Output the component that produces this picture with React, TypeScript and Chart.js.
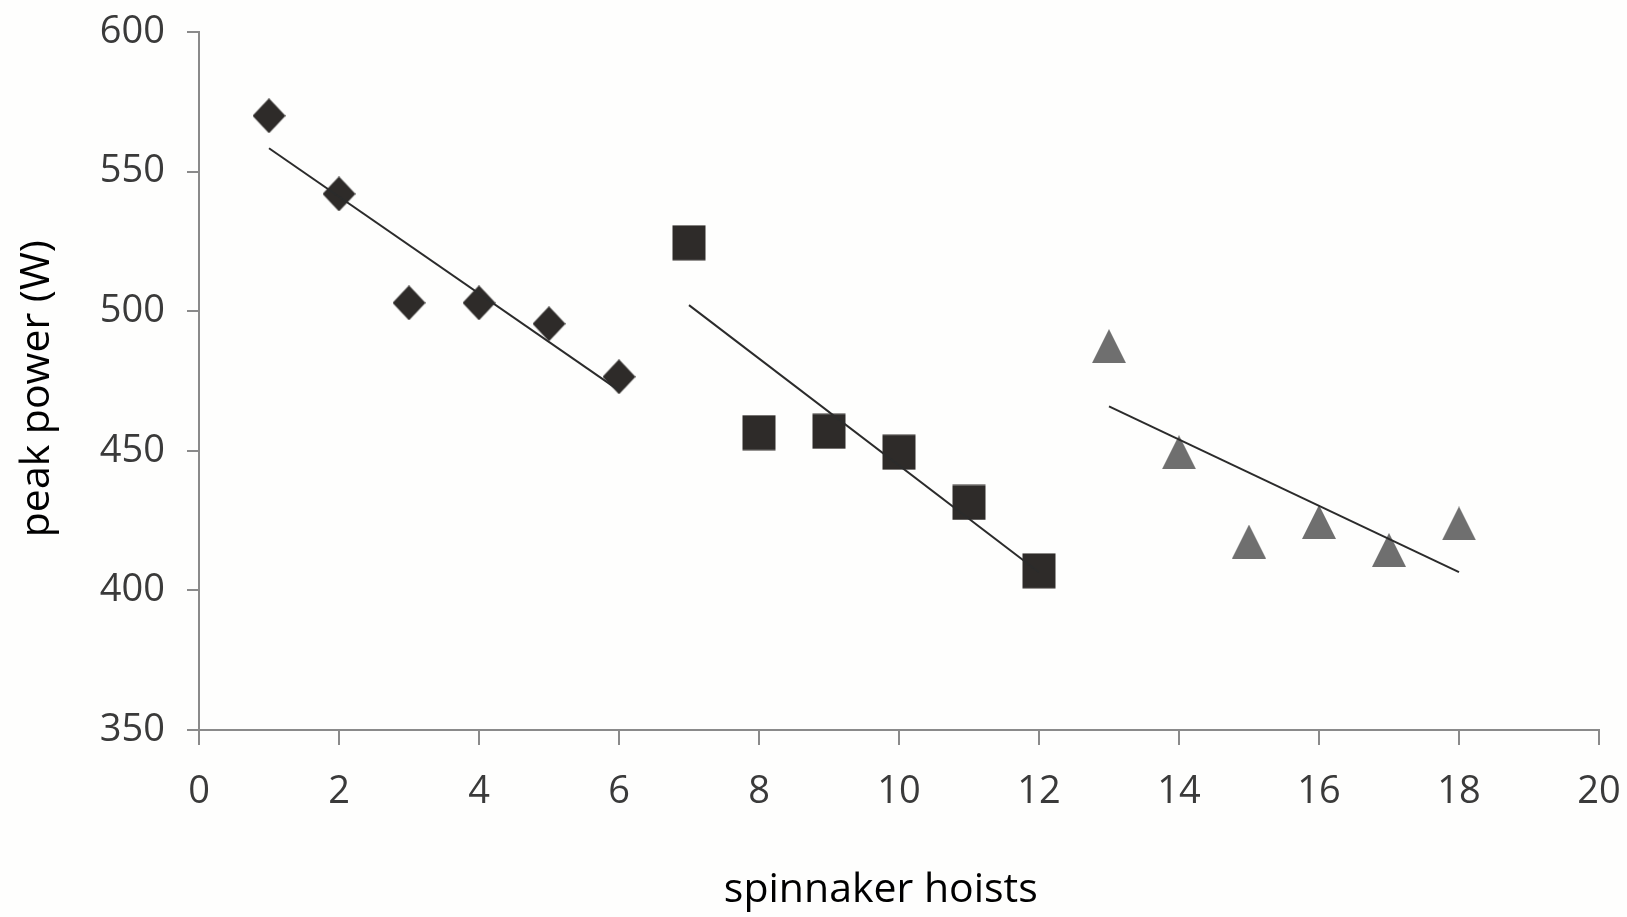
import React, { useEffect, useRef } from "react";
import { Chart, registerables } from "chart.js";

Chart.register(...registerables);

// Series data
const diamondX = [1, 2, 3, 4, 5, 6];
const diamondY = [570, 542, 503, 503, 495.5, 476.5];
const squareX = [7, 8, 9, 10, 11, 12];
const squareY = [524.5, 456.5, 457, 449.5, 431.5, 407];
const triangleX = [13, 14, 15, 16, 17, 18];
const triangleY = [487.5, 449.5, 417.5, 424.5, 414.5, 424];

// Axis ticks
const xTickValues = [0, 2, 4, 6, 8, 10, 12, 14, 16, 18, 20];
const yTickValues = [350, 400, 450, 500, 550, 600];

const xTitle = "spinnaker hoists";
const yTitle = "peak power (W)";

const toPoints = (xs: number[], ys: number[]) => xs.map((x, i) => ({ x, y: ys[i] }));

// Least-squares linear trendline over the series' x range
const trend = (xs: number[], ys: number[]) => {
  const n = xs.length;
  const mx = xs.reduce((a, b) => a + b, 0) / n;
  const my = ys.reduce((a, b) => a + b, 0) / n;
  let sxy = 0;
  let sxx = 0;
  for (let i = 0; i < n; i++) {
    sxy += (xs[i] - mx) * (ys[i] - my);
    sxx += (xs[i] - mx) * (xs[i] - mx);
  }
  const b = sxy / sxx;
  const a = my - b * mx;
  const x0 = Math.min(...xs);
  const x1 = Math.max(...xs);
  return [
    { x: x0, y: a + b * x0 },
    { x: x1, y: a + b * x1 },
  ];
};

const makeMarker = (kind: "diamond" | "square" | "triangle", color: string) => {
  const c = document.createElement("canvas");
  let w = 34;
  let h = 36;
  if (kind === "diamond") {
    w = 33;
    h = 35;
  } else if (kind === "triangle") {
    w = 34;
    h = 34;
  }
  c.width = w;
  c.height = h;
  const ctx = c.getContext("2d")!;
  ctx.fillStyle = color;
  ctx.beginPath();
  if (kind === "diamond") {
    ctx.moveTo(w / 2, 0);
    ctx.lineTo(w, h / 2);
    ctx.lineTo(w / 2, h);
    ctx.lineTo(0, h / 2);
  } else if (kind === "square") {
    ctx.rect(0.5, 0.5, w - 1, h - 1);
  } else {
    ctx.moveTo(w / 2, 0);
    ctx.lineTo(w, h);
    ctx.lineTo(0, h);
  }
  ctx.closePath();
  ctx.fill();
  return c;
};

// Axis titles drawn as canvas text, placed like the reference's
const axisTitlePlugin = {
  id: "axisTitles",
  afterDraw(chart: any) {
    const { ctx, chartArea } = chart;
    ctx.save();
    ctx.fillStyle = "#000000";
    ctx.font = "41px 'Open Sans', sans-serif";
    ctx.textAlign = "center";
    ctx.textBaseline = "middle";
    const xCenter = chartArea.left + (chartArea.right - chartArea.left) * 0.487;
    ctx.fillText(xTitle, xCenter, chart.height - 27);
    ctx.translate(37, chartArea.top + (chartArea.bottom - chartArea.top) * 0.511);
    ctx.rotate(-Math.PI / 2);
    ctx.fillText(yTitle, 0, 0);
    ctx.restore();
  },
};

export default function App() {
  const canvasRef = useRef<HTMLCanvasElement | null>(null);

  useEffect(() => {
    document.body.style.margin = "0";
    document.body.style.background = "#fefefd";
    const canvas = canvasRef.current;
    if (!canvas) return;

    const dark = "#2e2b29";
    const grey = "#6f6f6f";
    const lineColor = "#2b2b2b";
    const axisColor = "#8a8a8a";
    const tickFont = { family: "'Open Sans', sans-serif", size: 38 };

    const chart = new Chart(canvas, {
      type: "scatter",
      plugins: [axisTitlePlugin],
      data: {
        datasets: [
          {
            label: "trend 1",
            data: trend(diamondX, diamondY),
            showLine: true,
            borderColor: lineColor,
            borderWidth: 2,
            pointRadius: 0,
            order: 0,
          },
          {
            label: "trend 2",
            data: trend(squareX, squareY),
            showLine: true,
            borderColor: lineColor,
            borderWidth: 2,
            pointRadius: 0,
            order: 0,
          },
          {
            label: "trend 3",
            data: trend(triangleX, triangleY),
            showLine: true,
            borderColor: lineColor,
            borderWidth: 2,
            pointRadius: 0,
            order: 0,
          },
          {
            label: "diamonds",
            data: toPoints(diamondX, diamondY),
            pointStyle: makeMarker("diamond", dark),
            pointRadius: 17,
            backgroundColor: dark,
            order: 1,
          },
          {
            label: "squares",
            data: toPoints(squareX, squareY),
            pointStyle: makeMarker("square", dark),
            pointRadius: 17,
            backgroundColor: dark,
            order: 1,
          },
          {
            label: "triangles",
            data: toPoints(triangleX, triangleY),
            pointStyle: makeMarker("triangle", grey),
            pointRadius: 17,
            backgroundColor: grey,
            order: 1,
          },
        ],
      },
      options: {
        animation: false,
        responsive: true,
        maintainAspectRatio: false,
        layout: { padding: { top: 32, right: 28, left: 0, bottom: 0 } },
        plugins: {
          legend: { display: false },
          tooltip: { enabled: false },
        },
        scales: {
          x: {
            type: "linear",
            min: 0,
            max: 20,
            afterFit: (s: any) => {
              s.height = 187;
              s.paddingLeft = 0;
              s.paddingRight = 0;
            },
            afterBuildTicks: (s: any) => {
              s.ticks = xTickValues.map((v) => ({ value: v }));
            },
            ticks: {
              font: tickFont,
              color: "#3a3a3a",
              padding: 24,
              maxRotation: 0,
              autoSkip: false,
            },
            grid: {
              display: true,
              drawOnChartArea: false,
              drawTicks: true,
              tickLength: 15,
              color: axisColor,
              lineWidth: 2,
            },
            border: { display: true, color: axisColor, width: 2 },
            title: { display: false },
          },
          y: {
            type: "linear",
            min: 350,
            max: 600,
            afterFit: (s: any) => {
              s.width = 199;
              s.paddingTop = 0;
              s.paddingBottom = 0;
            },
            afterBuildTicks: (s: any) => {
              s.ticks = yTickValues.map((v) => ({ value: v }));
            },
            ticks: {
              font: tickFont,
              color: "#3a3a3a",
              padding: 22,
              autoSkip: false,
            },
            grid: {
              display: true,
              drawOnChartArea: false,
              drawTicks: true,
              tickLength: 12,
              color: axisColor,
              lineWidth: 2,
            },
            border: { display: true, color: axisColor, width: 2 },
            title: { display: false },
          },
        },
      },
    });

    return () => {
      chart.destroy();
    };
  }, []);

  return (
    <div
      style={{
        position: "fixed",
        left: 0,
        top: 0,
        width: "1627px",
        height: "917px",
        background: "#fefefd",
      }}
    >
      <canvas ref={canvasRef} />
    </div>
  );
}
